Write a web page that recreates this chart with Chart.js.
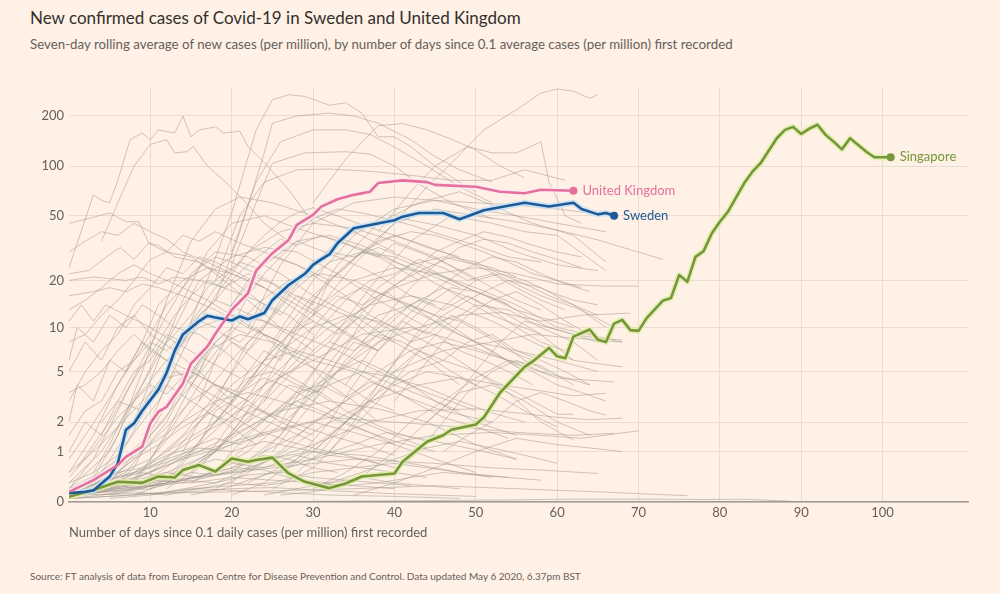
<!DOCTYPE html>
<html>
<head>
<meta charset="utf-8">
<script src="https://cdn.jsdelivr.net/npm/chart.js@4/dist/chart.umd.min.js"></script>
<style>
  html, body { margin: 0; padding: 0; background: #fff1e5; }
  body { width: 1000px; height: 594px; position: relative; overflow: hidden; font-family: Lato, "Open Sans", sans-serif; }
  #title { position: absolute; left: 30px; top: 7px; font-size: 17px; color: #33302e; }
  #subtitle { position: absolute; left: 30px; top: 36px; font-size: 13.3px; color: #66605c; }
  #source { position: absolute; left: 30px; top: 570px; font-size: 10px; color: #66605c; }
  #wrap { position: absolute; left: 0; top: 0; width: 1000px; height: 594px; }
</style>
</head>
<body>
<div id="title">New confirmed cases of Covid-19 in Sweden and United Kingdom</div>
<div id="subtitle">Seven-day rolling average of new cases (per million), by number of days since 0.1 average cases (per million) first recorded</div>
<div id="source">Source: FT analysis of data from European Centre for Disease Prevention and Control. Data updated May 6 2020, 6.37pm BST</div>
<div id="wrap"><canvas id="chart"></canvas></div>
<script>
// Achsen
var xTicks = [10, 20, 30, 40, 50, 60, 70, 80, 90, 100];
var yTicks = [0, 1, 2, 5, 10, 20, 50, 100, 200];

// Sweden (Tage seit 0.1 Fälle / Fälle pro Million)
var swedenDays  = [0, 2, 3, 5, 6, 7, 8, 9, 11, 12, 13, 14, 16, 17, 18, 20, 21, 22, 24, 25, 27, 29, 30, 31, 32, 33, 35, 37, 40, 41, 43, 46, 48, 51, 56, 59, 62, 63, 65, 66, 67];
var swedenCases = [0.13, 0.15, 0.17, 0.42, 0.7, 1.7, 1.95, 2.5, 3.7, 4.9, 7.0, 9.0, 11.0, 11.9, 11.6, 11.1, 11.8, 11.3, 12.4, 15.0, 18.7, 22, 25, 27, 29, 34, 42, 44, 47, 49.4, 52, 52, 47.6, 54, 60, 57, 60, 55, 51, 52, 50];

// United Kingdom
var ukDays  = [0, 3, 6, 7, 9, 10, 11, 12, 14, 15, 17, 18, 20, 22, 23, 25, 27, 28, 30, 31, 33, 35, 37, 38, 41, 44, 45, 50, 53, 56, 58, 62];
var ukCases = [0.15, 0.35, 0.66, 0.86, 1.14, 1.95, 2.46, 2.7, 4.1, 5.7, 7.45, 9.1, 13, 16.6, 23, 29.5, 35.6, 44, 50.6, 56.8, 63, 67, 70, 79, 82, 80, 77, 75, 70, 68.5, 72, 71];

// Singapore
var sgDays  = [0, 3, 6, 9, 11, 13, 14, 16, 18, 20, 22, 23, 25, 27, 29, 32, 34, 36, 40, 41, 44, 46, 47, 50, 51, 53, 56, 57, 59, 60, 61, 62, 64, 65, 66, 67, 68, 69, 70, 71, 73, 74, 75, 76, 77, 78, 79, 80, 81, 83, 84, 85, 87, 88, 89, 90, 91, 92, 93, 94, 95, 96, 98, 99, 101];
var sgCases = [0.075, 0.18, 0.32, 0.3, 0.42, 0.4, 0.55, 0.66, 0.52, 0.82, 0.74, 0.78, 0.84, 0.48, 0.32, 0.21, 0.29, 0.42, 0.48, 0.74, 1.29, 1.5, 1.7, 1.9, 2.2, 3.5, 5.4, 5.9, 7.3, 6.4, 6.2, 8.7, 9.7, 8.3, 8.0, 10.6, 11.2, 9.6, 9.5, 11.5, 14.9, 15.5, 21.6, 19.6, 28, 30.4, 39, 46, 53, 79, 92.5, 104, 147, 165, 172, 156, 168, 177, 154, 140, 126, 147, 122, 113, 113];

// Alle anderen Länder: [Tag, Fälle pro Million]
var otherCountries = [
  [[36,30],[40,45],[44,75],[47,104],[51,165],[55,218],[58,274],[60,290],[62,282],[64,255],[65,268]],
  [[14,8],[17,20],[20,52],[23,165],[25,250],[27,268],[29,262],[32,232],[34,240],[36,208],[38,150],[40,150],[42,131],[45,100],[48,80],[50,70]],
  [[18,15],[21,40],[24,120],[25,181],[28,200],[32,208],[35,200],[38,181],[42,144],[45,114],[48,95],[52,80]],
  [[20,30],[23,80],[26,140],[30,165],[34,165],[37,155],[40,130],[44,100],[48,75],[52,60]],
  [[30,60],[34,110],[38,175],[41,180],[44,165],[47,145],[50,125],[53,100],[56,85]],
  [[38,40],[42,70],[45,100],[49,131],[52,120],[55,120],[58,140],[59,80],[61,50],[63,45]],
  [[18,20],[21,50],[24,80],[28,95],[32,96],[37,93],[42,88],[47,82],[52,82],[56,95],[61,82]],
  [[20,25],[23,60],[25,104],[29,120],[34,122],[37,118],[40,100],[43,78],[47,60],[52,48]],
  [[22,10],[26,25],[30,45],[35,60],[40,65],[45,62],[50,60],[55,58],[60,55],[64,52]],
  [[25,8],[30,20],[35,38],[40,55],[45,62],[50,55],[55,50],[60,45],[66,40]],
  [[28,10],[33,25],[38,45],[43,60],[48,70],[52,58],[57,45],[62,38],[66,26]],
  [[32,8],[37,18],[42,35],[47,50],[52,45],[56,40],[60,38],[66,23]],
  [[30,12],[35,25],[40,45],[45,55],[50,50],[55,46],[60,41],[65,35.6],[69,31],[73,27]],
  [[0,24],[3,67],[4,62],[5,60],[6,82],[7.5,144],[9,158],[10,144],[11,165],[13,158],[14,200],[15,150],[16,165],[18,172],[19,158],[21,162],[22,131],[24,105],[27,72],[30,45]],
  [[4,35],[6,60],[8,100],[10,135],[12,144],[13,120],[14.5,122],[15.3,131],[17,100],[19,82],[21.5,62],[24,45],[27,35]],
  [[0,45],[3,49],[5,52],[7,46],[8.6,46],[9.8,34],[12,30],[15,28],[18,22],[22,15],[26,10]],
  [[0,22],[2.4,23],[5,29],[6.3,32],[8,27],[9.8,34],[11,33],[13,28],[16,26],[20,20],[24,14]],
  [[0,20],[3,21],[7,20],[9,21],[11,19],[13,21],[16,20],[19,18],[23,15],[27,12],[30,9]],
  [[0,16],[3,17],[5,18],[7,17],[9,19],[11,18],[14,16],[18,13],[22,10],[26,8]],
  [[0,11],[1.5,14],[3,11],[4.5,14],[7,12],[10,10],[13,8],[17,6],[21,4.5]],
  [[0,5],[2,8],[4,6],[6,10],[8,12],[10,9],[13,7],[16,5],[20,3]],
  [[0,2],[1,4],[3,3],[5,6],[7,5],[9,8],[12,6],[15,4],[19,2.5],[24,1.5]],
  [[0,1],[2,2],[4,1.5],[6,3],[9,2.5],[12,4],[15,3],[19,2],[23,1.2]],
  [[0,0.1],[3,0.4],[6,1.5],[9,5],[12,15],[15,35],[18,55],[21,65],[25,60],[30,50],[35,40],[40,30]],
  [[0,0.1],[4,0.5],[8,2],[11,6],[14,15],[17,30],[20,45],[24,50],[28,42],[33,35],[38,28],[43,20]],
  [[0,0.2],[5,1],[9,4],[13,10],[16,20],[20,28],[24,32],[28,30],[33,22],[38,15],[44,10]],
  [[0,0.1],[6,0.8],[10,3],[14,9],[18,18],[22,30],[26,40],[30,45],[35,42],[40,35],[45,28],[50,20]],
  [[0,0.1],[7,0.5],[12,2],[16,6],[20,14],[24,25],[28,35],[32,38],[36,33],[41,25],[46,18],[52,12],[58,9]],
  [[0,0.2],[5,0.6],[10,1.5],[15,4],[19,8],[23,14],[27,20],[31,22],[35,20],[40,15],[45,12],[50,8],[56,5]],
  [[0,0.1],[8,0.4],[14,1.5],[19,4],[24,10],[28,18],[32,26],[36,30],[40,28],[45,22],[50,17],[55,13],[62,10]],
  [[0,0.1],[9,0.3],[15,1],[20,3],[25,7],[30,13],[35,20],[40,24],[45,22],[50,18],[55,14],[60,10],[68,8]],
  [[2,0.1],[10,0.5],[16,1.2],[22,3],[27,6],[32,10],[37,14],[42,16],[47,14],[52,11],[57,8],[62,6],[68,5.4]],
  [[0,0.1],[6,0.3],[12,1],[18,2],[24,4],[30,6],[36,9],[42,10],[48,8],[54,6],[60,4.5],[67,4.2]],
  [[0,0.3],[4,1],[8,3],[12,6],[16,10],[20,12],[24,11],[28,9],[33,7],[38,5],[44,3.5],[50,2.5]],
  [[0,0.2],[3,0.8],[6,2.5],[9,6],[12,12],[15,22],[18,30],[22,28],[26,22],[30,16],[35,12],[40,8]],
  [[0,0.1],[5,0.3],[9,1.2],[13,3.5],[17,7],[21,9],[25,8],[30,6],[35,5],[40,3.5],[46,2.5],[52,2]],
  [[0,0.5],[3,1.5],[6,4],[9,8],[11,14],[14,20],[17,24],[20,22],[24,18],[28,14],[33,10],[38,7]],
  [[0,0.1],[10,0.8],[15,2.5],[20,6],[25,12],[29,22],[33,35],[37,45],[41,48],[45,44],[50,38],[55,30],[60,25],[65,23]],
  [[5,0.1],[12,0.3],[18,1],[24,3],[30,7],[35,12],[40,18],[45,22],[50,24],[55,22],[60,19],[66,18.4],[70,18.4]],
  [[0,0.1],[12,0.5],[20,1.2],[27,3],[33,5],[38,8],[43,10],[48,12],[53,12.5],[58,11],[63,12],[69,12.4]],
  [[0,0.1],[10,0.2],[20,0.6],[28,1.5],[34,3],[40,5],[46,7],[52,8],[57,9],[62,8.5],[68,8]],
  [[10,0.1],[18,0.3],[25,0.8],[31,1.8],[37,3],[43,4],[48,4.5],[53,4],[58,3.6],[62,3.3],[66,3.45]],
  [[0,0.1],[14,0.3],[22,0.6],[30,1.2],[37,2],[43,2.5],[50,2.6],[55,2.4],[60,2.2],[64,2.1],[68,2.16]],
  [[0,0.2],[8,0.5],[16,1],[24,1.6],[32,2.2],[40,2],[48,1.8],[55,1.6],[62,1.5],[67,1.57]],
  [[0,0.1],[10,0.3],[20,0.5],[30,0.8],[38,1.2],[45,1.5],[52,1.6],[58,1.5],[63,1.4],[70,1.66]],
  [[0,0.1],[8,0.2],[16,0.4],[25,0.6],[35,0.8],[45,0.7],[52,0.6],[58,0.55],[65,0.48]],
  [[0,0.1],[20,0.15],[35,0.2],[45,0.25],[55,0.2],[65,0.15],[76,0.09]],
  [[30,0.01],[45,0.02],[55,0.03],[60,0.038],[70,0.04],[78,0.035],[83,0.038],[88,0.015],[90,0]],
  [[20,0.5],[26,1.5],[30,4],[34,8],[38,12],[42,14],[46,10],[50,8],[55,7],[60,6],[65,5]],
  [[15,0.3],[22,1],[28,2.5],[33,5],[38,9],[42,14],[46,18],[50,15],[54,12],[58,9],[62,6]],
  [[25,0.2],[30,0.6],[34,1.5],[38,3],[42,6],[46,10],[50,14],[54,13],[58,10],[62,8],[65,6]],
  [[18,2],[22,4],[26,7],[30,10],[34,12],[38,11],[42,9],[46,7],[50,5],[55,3.5],[60,2.34],[62,2.34]],
  [[30,1],[34,2],[38,3.5],[42,5],[46,6],[50,5],[54,3.5],[58,2],[62,1.34]],
  [[12,1],[16,2],[20,4],[24,6],[28,7],[32,6],[36,5],[40,4],[45,3],[50,2],[55,1.5]],
  [[22,0.3],[28,0.8],[34,2],[40,4],[44,5],[48,4.5],[52,3.5],[56,2.5],[60,1.8]],
  [[35,0.3],[40,1],[44,2],[48,3.5],[52,4],[56,3],[60,2],[64,1.5]],
  [[5,0.2],[10,0.5],[15,0.9],[20,1.5],[26,2.5],[32,3],[38,2.6],[44,2],[50,1.2],[55,0.8]],
  [[8,0.4],[14,0.8],[20,1.2],[25,1.6],[30,2],[35,1.6],[40,1.2],[45,0.8],[50,0.5]],
  [[0,0.1],[6,0.2],[12,0.3],[18,0.5],[24,0.8],[30,1],[36,0.9],[42,0.7],[48,0.5],[54,0.4]],
  [[0,0.15],[5,0.25],[10,0.35],[15,0.3],[20,0.4],[25,0.35],[30,0.3],[35,0.25],[40,0.2]],
  [[0,0.05],[8,0.1],[16,0.2],[24,0.15],[32,0.1],[40,0.08],[48,0.05]],
  [[2,0.3],[6,0.6],[10,1.2],[14,2],[18,3],[22,3.5],[26,3],[30,2.5],[35,1.8],[40,1.3],[45,1]],
  [[0,0.5],[3,1],[6,1.8],[9,3],[12,4.5],[15,5],[18,4],[22,3],[26,2],[30,1.5]],
  [[26,0.5],[30,1],[34,2],[38,4],[42,8],[46,12],[50,16],[54,20],[58,18],[62,14],[66,10]],
  [[20,0.8],[25,2],[30,5],[34,10],[38,18],[42,25],[46,28],[50,25],[54,20],[58,16],[63,13],[67,10]],
  [[5,0.2],[8,0.6],[10,1.5],[12,2.2],[14,4],[16,5],[18,8],[20,10],[22,9],[24,14],[26,12],[28,16],[31,14],[34,12],[37,9],[40,8],[44,6],[48,4]],
  [[10,0.2],[13,0.5],[16,1.2],[18,2.5],[20,3],[22,5],[24,7],[26,6],[28,10],[30,12],[33,16],[36,14],[39,17],[42,13],[45,11],[48,9],[52,7],[56,5]],
  [[0,0.3],[3,0.5],[6,0.9],[9,2],[11,3],[13,5],[15,4.5],[17,7],[19,9],[21,8],[23,10],[26,7],[29,6],[32,4],[35,3],[38,2]],
  [[15,0.5],[18,1],[21,2],[24,4],[27,8],[30,12],[32,20],[34,25],[36,30],[38,28],[40,34],[43,30],[46,26],[49,22],[52,18],[55,15],[58,13]],
  [[20,0.3],[23,0.8],[26,1.5],[29,3],[32,5],[35,8],[38,7],[41,11],[44,9],[47,12],[50,10],[53,8],[56,6],[59,5]],
  [[8,0.1],[12,0.3],[15,0.6],[18,1],[21,1.8],[24,2.5],[27,4],[30,3.5],[33,5],[36,6],[39,5],[42,4],[45,3],[48,2.5]],
  [[3,0.5],[5,1.2],[7,2.5],[9,4],[11,7],[13,9],[15,12],[17,18],[19,22],[21,26],[23,24],[25,28],[28,25],[31,20],[34,16],[37,12],[40,10]],
  [[6,1],[8,2],[10,3.5],[12,5],[14,8],[16,12],[18,15],[20,20],[22,25],[24,30],[26,36],[28,33],[31,38],[34,34],[37,30],[40,26],[44,22],[48,18]],
  [[12,0.4],[15,1],[18,2],[21,3.5],[24,6],[27,9],[30,11],[33,9],[36,12],[39,10],[42,8],[45,9],[48,7],[51,6],[54,5],[57,4]],
  [[25,1],[28,2],[31,3.5],[34,6],[37,9],[40,12],[43,15],[46,13],[49,16],[52,13],[55,10],[58,8],[61,7]],
  [[18,0.2],[22,0.5],[26,1],[30,2],[34,3],[38,5],[42,7],[46,8],[50,7],[54,6],[58,5.5],[62,4]],
  [[0,0.2],[3,0.3],[6,0.5],[9,0.6],[12,0.9],[15,1.1],[18,1.4],[21,1.2],[24,1.6],[27,1.3],[30,1.1],[34,0.9],[38,0.7]],
  [[0,0.1],[4,0.15],[8,0.3],[12,0.5],[16,0.4],[20,0.7],[24,0.6],[28,0.9],[32,0.7],[36,0.6],[40,0.5],[44,0.4]],
  [[2,0.1],[6,0.2],[10,0.25],[14,0.35],[18,0.3],[22,0.45],[26,0.5],[30,0.4],[34,0.35],[38,0.3],[42,0.25]],
  [[0,0.05],[5,0.08],[10,0.12],[15,0.15],[20,0.2],[25,0.22],[30,0.18],[35,0.15],[40,0.12],[45,0.1],[50,0.08]],
  [[0,0.1],[3,0.2],[7,0.4],[10,0.6],[13,1],[16,1.5],[19,2],[22,2.8],[25,2.2],[28,3],[31,2.5],[34,2],[37,1.6],[40,1.2]],
  [[14,1],[16,2],[18,3],[20,5],[22,8],[24,10],[26,15],[28,20],[30,26],[32,30],[35,28],[38,32],[41,28],[44,24],[47,20],[50,17],[54,14]],
  [[22,2],[25,4],[28,6],[31,10],[34,15],[37,20],[40,22],[43,27],[46,24],[49,20],[52,22],[55,18],[58,15],[61,13]],
  [[28,0.5],[31,1],[34,2],[37,3],[40,5],[43,7],[46,6],[49,8],[52,9],[55,7],[58,6],[61,5],[64,4]],
  [[10,0.8],[12,1.5],[14,2.5],[16,4],[18,6],[20,8],[22,7],[24,9],[26,8],[28,6],[31,5],[34,4],[37,3],[40,2.5]],
  [[16,3],[18,6],[20,10],[22,16],[24,22],[26,28],[28,35],[30,32],[33,28],[36,24],[39,20],[42,16],[45,14]],
  [[4,2],[6,3],[8,5],[10,6],[12,9],[14,8],[16,11],[18,10],[20,8],[23,6],[26,5],[29,4],[32,3]],
  [[0,1.5],[2,2.5],[4,3],[6,5],[8,6],[10,8],[12,7],[14,9],[16,12],[18,15],[21,13],[24,11],[27,9],[30,7]],
  [[0,3],[2,5],[4,7],[6,9],[8,14],[10,18],[12,24],[14,22],[16,28],[18,26],[21,22],[24,18],[27,14],[30,11]],
  [[0,8],[2,9],[4,12],[6,15],[8,20],[10,27],[12,30],[14,38],[16,35],[18,40],[21,34],[24,30],[28,25],[32,20]],
  [[0,30],[2,35],[4,40],[6,38],[8,45],[10,40],[12,36],[14,30],[17,26],[20,22],[24,18]],
  [[0,6],[1,10],[3,8],[5,12],[7,10],[9,14],[11,12],[13,10],[16,9],[19,7],[22,5]],
  [[8,0.3],[10,0.8],[12,1.6],[14,3],[16,5],[18,9],[20,14],[22,20],[24,26],[26,34],[28,40],[30,48],[33,55],[36,52],[39,48],[42,44],[46,38],[50,33],[54,28],[58,26]],
  [[12,0.2],[15,0.5],[18,1.2],[21,2.5],[24,5],[27,9],[30,15],[33,22],[36,30],[39,36],[42,40],[45,38],[48,34],[51,30],[54,26],[57,22],[60,20],[63,18]],
  [[20,0.1],[24,0.3],[28,0.8],[32,2],[35,4],[38,7],[41,10],[44,14],[47,18],[50,17],[53,15],[56,12],[59,10],[62,9],[65,8]],
  [[30,0.2],[34,0.5],[38,1],[42,2],[46,3],[50,4.5],[54,6],[57,5],[60,4],[63,3.5],[66,3]],
  [[35,0.1],[40,0.3],[45,0.6],[50,1],[55,1.4],[60,1.2],[64,1.1],[68,1]],
  [[6,0.5],[9,1],[12,1.8],[15,3],[18,4],[21,3.5],[24,4.5],[27,3.8],[30,3],[33,2.4],[36,2],[40,1.5],[44,1.1]],
  [[2,0.2],[5,0.4],[8,0.8],[11,1.2],[14,1.8],[17,2.4],[20,2],[23,2.6],[26,2.2],[29,1.8],[32,1.5],[36,1.2],[40,0.9]],
  [[15,0.1],[19,0.2],[23,0.4],[27,0.6],[31,0.9],[35,1.2],[39,1.6],[43,1.4],[47,1.2],[51,1],[55,0.8]],
  [[24,0.1],[28,0.2],[32,0.3],[36,0.5],[40,0.8],[44,1.1],[48,1.3],[52,1.1],[56,0.9],[60,0.7]],
  [[1,0.6],[3,1.2],[5,2],[7,3.5],[9,5.5],[11,8],[13,12],[15,16],[17,20],[19,18],[22,22],[25,19],[28,15],[31,12],[34,9],[38,7]],
  [[10,2],[12,4],[14,7],[16,11],[18,16],[20,22],[22,30],[24,38],[26,46],[28,52],[30,56],[33,50],[36,44],[40,38],[44,32],[48,28]],
  [[26,2],[29,4],[32,7],[35,11],[38,16],[41,20],[44,24],[47,28],[50,26],[53,22],[56,19],[59,16],[62,14],[65,12]],
  [[32,1],[35,2],[38,4],[41,7],[44,11],[47,15],[50,20],[53,22],[56,20],[59,17],[62,15],[65,14]],
  [[40,0.5],[43,1],[46,2],[49,3.5],[52,5],[55,6],[58,5],[61,4.5],[64,4]],
  [[18,0.5],[20,1],[22,1.5],[25,2.4],[28,3.5],[31,4],[34,3.2],[37,4.2],[40,3.6],[43,2.8],[46,2.2],[50,1.8],[54,1.4]],
  [[0,0.4],[2,0.8],[4,1.4],[6,2.2],[8,3],[10,4],[12,3.4],[14,4.6],[16,3.8],[19,3],[22,2.4],[26,1.8],[30,1.3]],
  [[4,0.1],[8,0.2],[12,0.4],[16,0.8],[20,1.4],[24,2.2],[28,3],[32,4],[36,5],[40,4.5],[44,3.8],[48,3],[52,2.4],[56,2]],
  [[0,0.2],[4,0.3],[8,0.5],[12,0.8],[16,1.1],[20,1],[24,1.3],[28,1.1],[32,0.9],[36,0.8],[40,0.6]],
  [[0,0.1],[3,0.15],[6,0.25],[9,0.2],[12,0.35],[15,0.5],[18,0.45],[21,0.6],[24,0.55],[27,0.4],[30,0.3],[34,0.25]],
  [[0,0.05],[4,0.1],[8,0.15],[12,0.1],[16,0.2],[20,0.3],[24,0.25],[28,0.35],[32,0.3],[36,0.4],[40,0.3],[44,0.25],[48,0.2]],
  [[0,0.1],[3,0.3],[6,0.4],[9,0.5],[12,0.4],[15,0.6],[18,0.8],[21,0.7],[24,0.9],[27,0.8],[30,0.6],[33,0.5]],
  [[5,0.05],[10,0.1],[15,0.2],[20,0.25],[25,0.3],[30,0.5],[35,0.6],[40,0.7],[44,0.6],[48,0.5],[52,0.4]],
  [[26,0.1],[30,0.15],[34,0.25],[38,0.3],[42,0.4],[46,0.5],[50,0.45],[54,0.4],[58,0.35]],
  [[34,4],[37,7],[40,10],[43,14],[46,19],[49,24],[52,28],[55,26],[58,22],[61,19],[64,17]],
  [[36,8],[39,12],[42,18],[45,25],[48,32],[51,36],[54,34],[57,30],[60,27],[63,24]],
  [[40,3],[43,5],[46,8],[49,12],[52,15],[55,17],[58,14],[61,11],[64,9]],
  [[24,3],[27,6],[30,10],[33,15],[36,18],[39,16],[42,14],[45,12],[48,11],[51,9],[54,7],[57,6]],
  [[14,0.3],[17,0.8],[20,1.6],[23,3],[26,4.5],[29,6],[32,8],[35,7],[38,9],[41,8],[44,6.5],[47,5],[50,4]],
  [[30,3],[33,6],[36,11],[39,17],[42,22],[45,30],[48,35],[51,40],[54,37],[57,33],[60,30],[63,28]],
  [[44,2],[47,3],[50,5],[53,8],[56,11],[59,10],[62,9],[65,8.5],[68,8.26]],
  [[10,0.5],[13,1],[16,2],[19,3],[22,4.5],[25,5],[28,4],[31,3.5],[34,2.5],[37,2],[40,1.6],[44,1.3]],
  [[0,0.8],[2,1.5],[4,2.5],[6,4],[8,6],[10,9],[12,14],[14,18],[16,24],[18,28],[20,26],[23,22],[26,18],[30,14]],
  [[0,13],[2,15],[4,18],[6,22],[8,25],[10,22],[12,20],[14,18],[17,15],[20,12],[24,9],[28,7]],
  [[0,3.5],[2,4],[4,5],[6,7],[8,9],[10,7],[12,6],[15,5],[18,4],[22,3]],
  [[22,4],[24,6],[26,9],[28,12],[30,16],[32,20],[34,24],[36,30],[38,35],[40,38],[43,34],[46,30],[49,26],[52,24],[55,21]],
  [[46,1],[49,1.5],[52,2],[55,3],[58,3.5],[61,3],[64,2.5],[66,2.3]]
];

// Skala: log10(1 + Fälle), damit 0 darstellbar bleibt
function toScale(v) { return Math.log10(1 + v); }

function points(days, cases) {
  return days.map(function (d, i) { return { x: d, y: toScale(cases[i]) }; });
}

var datasets = [];

function addCountry(label, days, cases, color, halo) {
  var pts = points(days, cases);
  var last = pts.length - 1;
  datasets.push({
    data: pts,
    borderColor: color,
    backgroundColor: color,
    borderWidth: 2.6,
    pointRadius: function (c) { return c.dataIndex === last ? 4 : 0; },
    pointBorderWidth: 0,
    endLabel: label,
    order: 0
  });
  datasets.push({
    data: pts,
    borderColor: halo,
    borderWidth: 6,
    pointRadius: 0,
    order: 1
  });
}

addCountry("United Kingdom", ukDays, ukCases, "#e4709c", "rgba(255,235,240,0.85)");
addCountry("Sweden", swedenDays, swedenCases, "#1d5a98", "rgba(200,225,245,0.85)");
addCountry("Singapore", sgDays, sgCases, "#76963a", "rgba(225,238,170,0.8)");

otherCountries.forEach(function (line) {
  datasets.push({
    data: line.map(function (p) { return { x: p[0], y: toScale(p[1]) }; }),
    borderColor: "rgba(160,150,142,0.5)",
    borderWidth: 1,
    pointRadius: 0,
    order: 2
  });
});

// Beschriftung am Linienende
var endLabels = {
  id: "endLabels",
  afterDatasetsDraw: function (chart) {
    var ctx = chart.ctx;
    chart.data.datasets.forEach(function (ds, i) {
      if (!ds.endLabel) return;
      var meta = chart.getDatasetMeta(i);
      var pt = meta.data[meta.data.length - 1];
      ctx.save();
      ctx.font = "13px Lato, 'Open Sans', sans-serif";
      ctx.fillStyle = ds.borderColor;
      ctx.textBaseline = "middle";
      ctx.fillText(ds.endLabel, pt.x + 9, pt.y);
      ctx.restore();
    });
  }
};

var ctx = document.getElementById("chart").getContext("2d");
new Chart(ctx, {
  type: "line",
  data: { datasets: datasets },
  plugins: [endLabels],
  options: {
    responsive: true,
    maintainAspectRatio: false,
    animation: false,
    layout: { padding: { left: 0, right: 32, top: 88, bottom: 52 } },
    plugins: { legend: { display: false }, tooltip: { enabled: false } },
    elements: { line: { tension: 0, borderJoinStyle: "round" } },
    scales: {
      x: {
        type: "linear",
        min: 0,
        max: 110.5,
        afterBuildTicks: function (scale) {
          scale.ticks = xTicks.map(function (t) { return { value: t }; });
        },
        afterFit: function (scale) { scale.height = 40; },
        grid: { color: "#e9dcd1", drawTicks: false },
        border: { display: true, color: "#a39c96", width: 1.5 },
        ticks: { color: "#66605c", font: { family: "Lato", size: 13 }, padding: 3, maxRotation: 0 },
        title: {
          display: true,
          text: "Number of days since 0.1 daily cases (per million) first recorded",
          align: "start",
          color: "#66605c",
          font: { family: "Lato", size: 13 },
          padding: { top: 0, bottom: 1 }
        }
      },
      y: {
        type: "linear",
        min: 0,
        max: 2.47,
        afterBuildTicks: function (scale) {
          scale.ticks = yTicks.map(function (t) { return { value: toScale(t) }; });
        },
        afterFit: function (scale) { scale.width = 69; },
        grid: { color: "#e9dcd1", drawTicks: false },
        border: { display: false },
        ticks: {
          color: "#66605c",
          font: { family: "Lato", size: 13 },
          padding: 5,
          callback: function (value, index) { return String(yTicks[index]); }
        }
      }
    }
  }
});
</script>
</body>
</html>
